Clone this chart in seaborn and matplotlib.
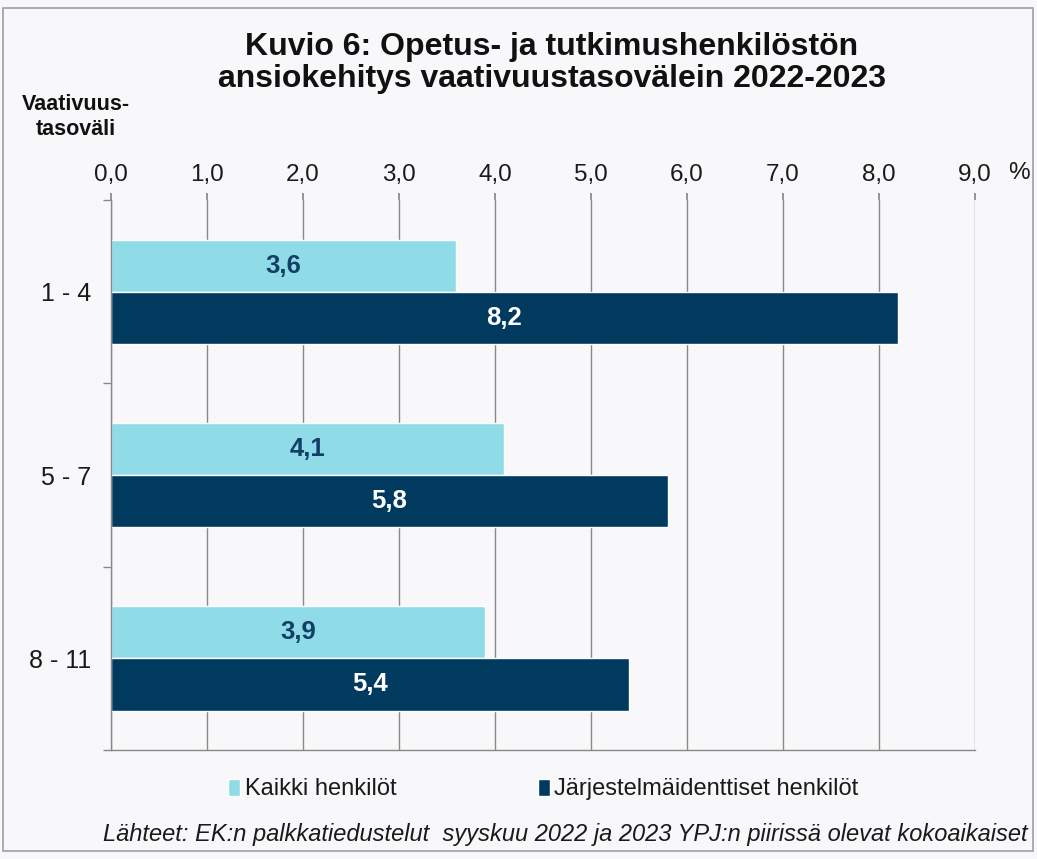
import matplotlib
matplotlib.use("Agg")
import matplotlib.pyplot as plt
from matplotlib.patches import Rectangle, Patch
from matplotlib.ticker import FixedLocator
import seaborn as sns
import pandas as pd

# data
levels = ["1 - 4", "5 - 7", "8 - 11"]
kaikki = [3.6, 4.1, 3.9]
jarj = [8.2, 5.8, 5.4]
series_names = ["Kaikki henkilöt", "Järjestelmäidenttiset henkilöt"]
xticks = [0, 1, 2, 3, 4, 5, 6, 7, 8, 9]

df = pd.DataFrame({
    "taso": levels * 2,
    "arvo": kaikki + jarj,
    "sarja": [series_names[0]] * 3 + [series_names[1]] * 3,
})

sns.set_theme(style="white")
plt.rcParams["font.family"] = ["Liberation Sans", "DejaVu Sans"]

bg = "#f8f8fa"
light = "#8fdce8"
dark = "#003a5e"
label_dark = "#123f66"

fig = plt.figure(figsize=(10.37, 8.59), dpi=100, facecolor=bg)
ax = fig.add_axes([0.107, 0.127, 0.833, 0.64])
ax.set_facecolor(bg)

sns.barplot(data=df, y="taso", x="arvo", hue="sarja", orient="h",
            palette=[light, dark], width=0.57, ax=ax, legend=False,
            saturation=1)

ax.set_xlim(0, 9)
ax.set_ylim(2.5, -0.5)
ax.set_xticks(xticks)
ax.set_xticklabels([f"{v:.1f}".replace(".", ",") for v in xticks], fontsize=17.5)
ax.xaxis.tick_top()
ax.tick_params(axis="x", which="major", length=5, color="#888888", pad=5,
               top=True, bottom=False, labelcolor="#1a1a1a")
ax.grid(axis="x", color="#888888", linewidth=1)
ax.set_axisbelow(True)
ax.yaxis.set_minor_locator(FixedLocator([-0.5, 0.5, 1.5, 2.5]))
ax.tick_params(axis="y", which="major", length=0, labelsize=18, pad=14,
               labelcolor="#1a1a1a")
ax.tick_params(axis="y", which="minor", length=6, color="#888888", left=True)
ax.set_xlabel("")
ax.set_ylabel("")
for s in ["top", "right"]:
    ax.spines[s].set_visible(False)
for s in ["left", "bottom"]:
    ax.spines[s].set_color("#888888")
    ax.spines[s].set_linewidth(1)

for i, cont in enumerate(ax.containers):
    col = label_dark if i == 0 else "white"
    labels = [f"{v:.1f}".replace(".", ",") for v in cont.datavalues]
    ax.bar_label(cont, labels=labels, label_type="center", color=col,
                 fontsize=18.5, fontweight="bold")

fig.text(0.532, 0.963, "Kuvio 6: Opetus- ja tutkimushenkilöstön\nansiokehitys vaativuustasovälein 2022-2023",
         ha="center", va="top", fontsize=23, fontweight="bold", linespacing=1.1,
         color="#111111")
fig.text(0.073, 0.891, "Vaativuus-\ntasoväli", ha="center", va="top",
         fontsize=15.5, fontweight="bold", linespacing=1.3, color="#111111")
fig.text(0.983, 0.799, "%", ha="center", va="center", fontsize=17.5,
         color="#1a1a1a")

# legend
handles = [Patch(facecolor=light, label=series_names[0]),
           Patch(facecolor=dark, label=series_names[1])]
fig.legend(handles=handles, loc="center", bbox_to_anchor=(0.524, 0.081), ncol=2,
           frameon=False, fontsize=17, handlelength=0.5, handleheight=0.75,
           handletextpad=0.2, columnspacing=6.0, labelcolor="#1a1a1a")

fig.text(0.545, 0.028, "Lähteet: EK:n palkkatiedustelut  syyskuu 2022 ja 2023 YPJ:n piirissä olevat kokoaikaiset",
         ha="center", va="center", fontsize=17, style="italic", color="#1a1a1a")

fig.patches.append(Rectangle((0.003, 0.009), 0.993, 0.982, transform=fig.transFigure,
                             fill=False, edgecolor="#a0a0a0", linewidth=1.2))

fig.savefig("out.png", dpi=100, facecolor=bg)
